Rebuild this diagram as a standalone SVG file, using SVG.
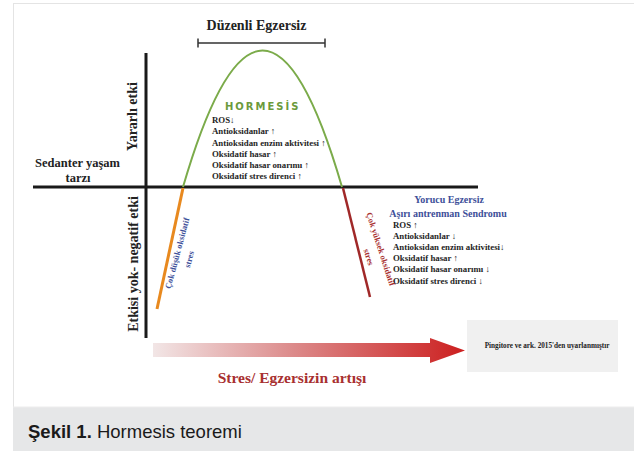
<svg xmlns="http://www.w3.org/2000/svg" width="634" height="451" viewBox="0 0 634 451">
<defs>
<linearGradient id="grad" x1="0" y1="0" x2="1" y2="0">
<stop offset="0" stop-color="#f2e6e6"/>
<stop offset="0.45" stop-color="#dc8a8a"/>
<stop offset="1" stop-color="#cc1f1f"/>
</linearGradient>
<style>
.ser{font-family:"Liberation Serif","Times New Roman",serif;font-weight:bold}
.lst{font-family:"Liberation Serif","Times New Roman",serif;font-weight:bold;font-size:8.8px;fill:#1e1e1e}
.blue{fill:#3d4f99}
.red{fill:#a83030}
.ax{stroke:#1a1a1a;stroke-width:3;fill:none}
</style>
</defs>
<rect id="frame" x="13.5" y="3.5" width="640" height="446" fill="#ffffff" stroke="#e4e4e4" stroke-width="1"/>
<rect id="captionband" x="13" y="407" width="621" height="44" fill="#e6e7e8"/>
<line x1="13" y1="407" x2="634" y2="407" stroke="#ededed" stroke-width="1"/>
<text id="caption" x="28" y="438" font-family="'Liberation Sans',Arial,sans-serif" font-size="18.5" fill="#1a1a1a"><tspan font-weight="bold">Şekil 1.</tspan> Hormesis teoremi</text>

<g id="connectors">
<line class="ax" x1="146" y1="53" x2="146" y2="338"/>
<line class="ax" x1="33" y1="187" x2="478" y2="187"/>
<path d="M198,43 H325 M198,38.5 V47.5 M325,38.5 V47.5" stroke="#333" stroke-width="1.5" fill="none"/>
<path id="hormesis-curve" d="M183,187 Q262.5,-86 342,187" stroke="#7bab4a" stroke-width="2" fill="none"/>
<path id="low-curve" d="M183,188 Q171,243 157,309" stroke="#e8891f" stroke-width="3" fill="none"/>
<path id="high-curve" d="M343,188 Q355,236 370,297" stroke="#a02828" stroke-width="2.5" fill="none"/>
<polygon id="stress-arrow" points="153,343 430,343 430,338 465,350.5 430,363 430,357 153,357" fill="url(#grad)"/>
</g>

<g id="title">
<text class="ser" x="256.5" y="30" font-size="14" text-anchor="middle" fill="#222">Düzenli Egzersiz</text>
</g>

<g id="axis-labels">
<text class="ser" x="77.5" y="167" font-size="12.5" text-anchor="middle" fill="#222">Sedanter yaşam</text>
<text class="ser" x="78" y="182" font-size="12.5" text-anchor="middle" fill="#222">tarzı</text>
<text class="ser" transform="translate(137,116.5) rotate(-90)" font-size="14" text-anchor="middle" fill="#222">Yararlı etki</text>
<text class="ser" transform="translate(138,264) rotate(-90)" font-size="14" text-anchor="middle" fill="#222">Etkisi yok- negatif etki</text>
</g>

<g id="hormesis">
<text x="225" y="110" font-family="'DejaVu Sans',sans-serif" font-weight="bold" font-size="10" letter-spacing="2" fill="#6b9a3c">HORMESİS</text>
<text class="lst" x="212" y="123">ROS↓</text>
<text class="lst" x="212" y="134">Antioksidanlar ↑</text>
<text class="lst" x="212" y="145.5">Antioksidan enzim aktivitesi ↑</text>
<text class="lst" x="212" y="157">Oksidatif hasar ↑</text>
<text class="lst" x="212" y="167.5">Oksidatif hasar onarımı ↑</text>
<text class="lst" x="212" y="179">Oksidatif stres direnci ↑</text>
</g>

<g id="low-stress">
<text class="ser blue" transform="translate(180,254) rotate(-75)" font-size="8.5" text-anchor="middle">Çok düşük oksidatif</text>
<text class="ser blue" transform="translate(192,260) rotate(-75)" font-size="8.5" text-anchor="middle">stres</text>
</g>

<g id="high-stress">
<text class="ser red" transform="translate(378,250) rotate(72)" font-size="8.5" text-anchor="middle">Çok yüksek oksidatif</text>
<text class="ser red" transform="translate(366,258) rotate(72)" font-size="8.5" text-anchor="middle">stres</text>
</g>

<g id="overtraining">
<text class="ser blue" x="449" y="203" font-size="10" text-anchor="middle">Yorucu Egzersiz</text>
<text class="ser blue" x="448" y="217" font-size="10" text-anchor="middle">Aşırı antrenman Sendromu</text>
<text class="lst" x="393" y="228">ROS ↑</text>
<text class="lst" x="393" y="239">Antioksidanlar ↓</text>
<text class="lst" x="393" y="250">Antioksidan enzim aktivitesi↓</text>
<text class="lst" x="393" y="261">Oksidatif hasar ↑</text>
<text class="lst" x="393" y="272">Oksidatif hasar onarımı ↓</text>
<text class="lst" x="393" y="284">Oksidatif stres direnci ↓</text>
</g>

<g id="stress-label">
<text class="ser red" x="292" y="383" font-size="15.5" text-anchor="middle">Stres/ Egzersizin artışı</text>
</g>

<g id="source">
<rect x="467" y="320" width="151" height="52" fill="#f0f0f0"/>
<text class="ser" x="547" y="348" font-size="7.2" text-anchor="middle" fill="#222">Pingitore ve ark. 2015'den uyarlanmıştır</text>
</g>
</svg>
